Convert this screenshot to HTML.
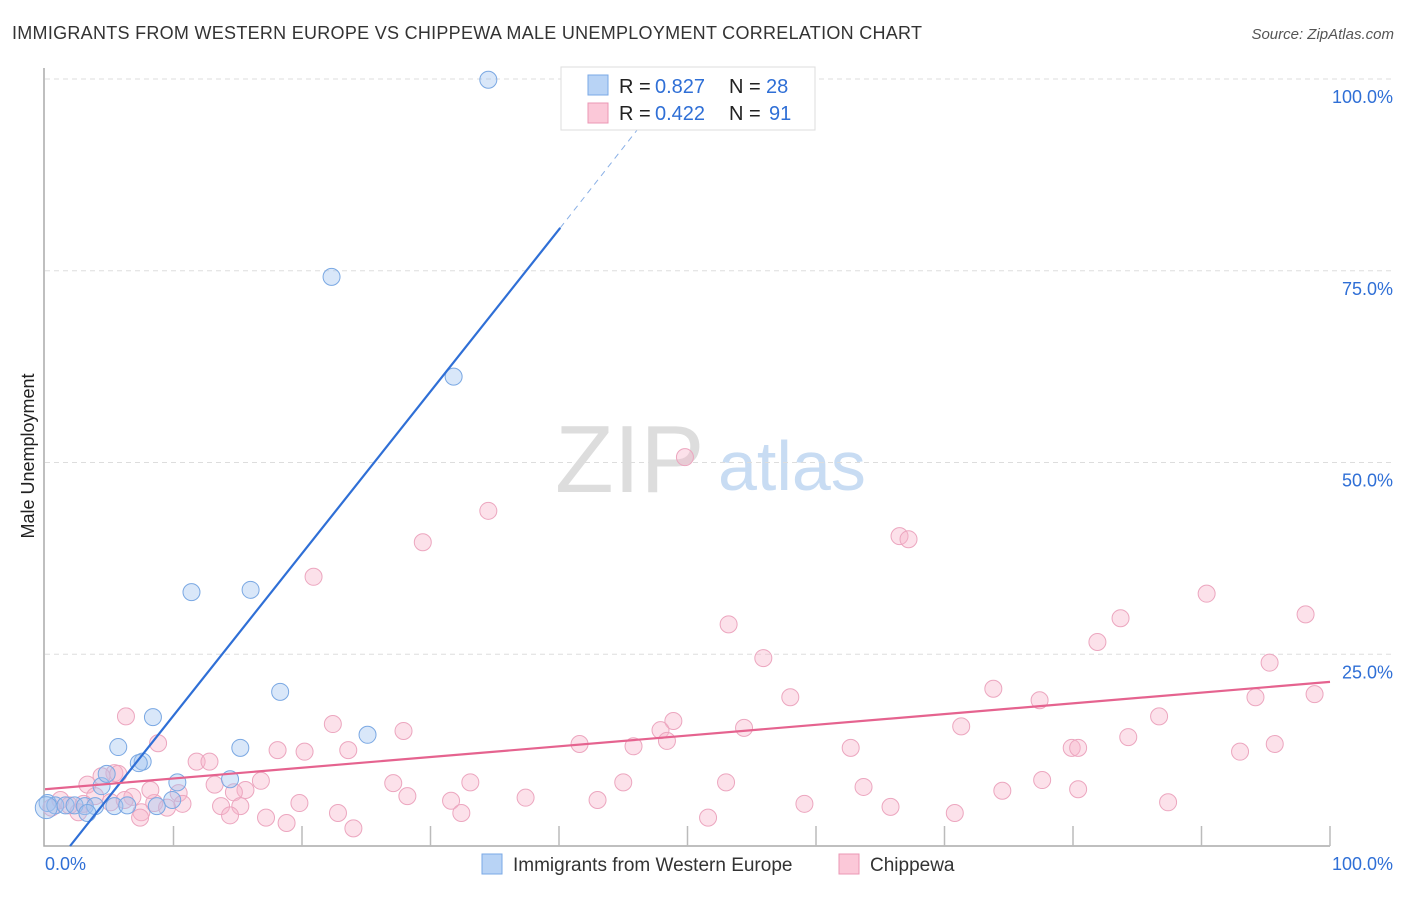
<!DOCTYPE html>
<html><head><meta charset="utf-8"><style>
body{margin:0;background:#fff;font-family:"Liberation Sans",sans-serif;}
svg text{font-family:"Liberation Sans",sans-serif;}
</style></head><body>
<svg id="chart" width="1406" height="892" xmlns="http://www.w3.org/2000/svg">
<text x="12" y="39" font-size="18" fill="#333" textLength="910">IMMIGRANTS FROM WESTERN EUROPE VS CHIPPEWA MALE UNEMPLOYMENT CORRELATION CHART</text>
<text x="1394" y="39" font-size="15" fill="#555" font-style="italic" text-anchor="end">Source: ZipAtlas.com</text>
<text x="34" y="456" font-size="18" fill="#222" text-anchor="middle" transform="rotate(-90 34 456)">Male Unemployment</text>
<text x="555" y="492" font-size="96" fill="#ddd" font-family="Liberation Serif">ZIP</text>
<text x="718" y="490" font-size="70" fill="#c8dcf3">atlas</text>
<g id="grid"></g><g id="axes"></g><g id="marks"></g><g id="lines"></g>
<g>
<rect x="561" y="67" width="254" height="63" fill="#fff" stroke="#ddd"/>
<rect x="588" y="75" width="20" height="20" fill="#b8d3f5" stroke="#7aa8e6"/>
<rect x="588" y="103" width="20" height="20" fill="#fbc8d8" stroke="#eb97b5"/>
<text x="619" y="93" font-size="20" fill="#222">R =</text>
<text x="655" y="93" font-size="20" fill="#2f6fd6">0.827</text>
<text x="729" y="93" font-size="20" fill="#222">N =</text>
<text x="766" y="93" font-size="20" fill="#2f6fd6">28</text>
<text x="619" y="120" font-size="20" fill="#222">R =</text>
<text x="655" y="120" font-size="20" fill="#2f6fd6">0.422</text>
<text x="729" y="120" font-size="20" fill="#222">N =</text>
<text x="769" y="120" font-size="20" fill="#2f6fd6">91</text>
</g>
<g>
<rect x="482" y="854" width="20" height="20" fill="#b8d3f5" stroke="#7aa8e6"/>
<text x="513" y="871" font-size="19" fill="#333">Immigrants from Western Europe</text>
<rect x="839" y="854" width="20" height="20" fill="#fbc8d8" stroke="#eb97b5"/>
<text x="870" y="871" font-size="19" fill="#333">Chippewa</text>
</g>
</svg>
<script>
const yTicks=[25,50,75,100];
const yTickLabels=["25.0%","50.0%","75.0%","100.0%"];
const xTicks=[10,20,30,40,50,60,70,80,90,100];
const blueX=[34.5,22.3,31.8,11.4,16.0,18.3,8.4,5.7,7.6,7.3,15.2,25.1,10.3,14.4,4.4,4.8,0.2,0.8,1.6,2.3,3.1,3.9,5.4,3.3,6.4,8.7,9.9,0.1];
const blueY=[99.9,74.2,61.2,33.1,33.4,20.1,16.8,12.9,11.0,10.8,12.8,14.5,8.3,8.7,7.8,9.4,5.6,5.3,5.3,5.3,5.2,5.2,5.2,4.3,5.3,5.2,6.0,5.0];
const pinkX=[49.8,34.5,66.5,67.2,29.4,20.9,90.4,98.1,83.7,53.2,81.9,55.9,95.3,73.8,58.0,77.4,94.2,98.8,6.3,86.7,22.4,71.3,48.9,54.4,47.9,27.9,84.3,8.8,41.6,48.4,45.8,95.7,62.7,79.9,80.4,18.1,20.2,23.6,93.0,11.8,12.8,5.4,4.4,5.7,3.3,16.8,13.2,27.1,33.1,45.0,53.0,77.6,63.7,80.4,74.5,10.4,15.6,14.7,28.2,6.8,3.9,37.4,43.0,31.6,19.8,87.4,59.1,8.5,10.7,13.7,15.2,65.8,9.5,2.6,7.5,22.8,32.4,14.4,70.8,17.2,51.6,18.8,24.0,7.4,1.2,1.9,0.5,5.1,6.2,8.2,3.0];
const pinkY=[50.7,43.7,40.4,40.0,39.6,35.1,32.9,30.2,29.7,28.9,26.6,24.5,23.9,20.5,19.4,19.0,19.4,19.8,16.9,16.9,15.9,15.6,16.3,15.4,15.1,15.0,14.2,13.4,13.3,13.7,13.0,13.3,12.8,12.8,12.8,12.5,12.3,12.5,12.3,11.0,11.0,9.5,9.1,9.4,8.0,8.5,8.0,8.2,8.3,8.3,8.3,8.6,7.7,7.4,7.2,6.9,7.3,7.0,6.5,6.4,6.5,6.3,6.0,5.9,5.6,5.7,5.5,5.6,5.5,5.2,5.2,5.1,5.0,4.4,4.4,4.3,4.3,4.0,4.3,3.7,3.7,3.0,2.3,3.7,6.0,5.3,5.0,5.7,6.0,7.3,5.5];
const blueFit=[1.95,0,40.1,80.6,46.1,93.4];
const pinkFit=[0,7.4,100,21.4];
const NS="http://www.w3.org/2000/svg";
const X=v=>45+v*12.85, Y=v=>846-v*7.67;
function mk(t,a,p){const e=document.createElementNS(NS,t);for(const k in a)e.setAttribute(k,a[k]);p.appendChild(e);return e;}
const grid=document.getElementById('grid'),axes=document.getElementById('axes'),marks=document.getElementById('marks'),lines=document.getElementById('lines');
yTicks.forEach((t,i)=>{
const g=mk('line',{x1:45,x2:1392,y1:Y(t),y2:Y(t),stroke:'#ddd','stroke-dasharray':'5,4'},grid);


const l=mk('text',{x:1393,y:Y(t)+24,'font-size':18,fill:'#2f6fd6','text-anchor':'end'},axes);l.textContent=yTickLabels[i];


});
const ax=mk('path',{d:'M44,68 V846 H1330',fill:'none',stroke:'#aaa','stroke-width':1.5},axes);


xTicks.forEach(t=>{const k=mk('line',{x1:X(t),x2:X(t),y1:826,y2:846,stroke:'#bbb','stroke-width':1.5},axes);

});
const x0=mk('text',{x:45,y:870,'font-size':18,fill:'#2f6fd6'},axes);x0.textContent='0.0%';


const x1=mk('text',{x:1393,y:870,'font-size':18,fill:'#2f6fd6','text-anchor':'end'},axes);x1.textContent='100.0%';


pinkX.forEach((v,i)=>{const c=mk('circle',{cx:X(v),cy:Y(pinkY[i]),r:8.5,fill:'rgba(248,180,202,0.4)',stroke:'#eca6bf','stroke-width':1},marks);

});
blueX.forEach((v,i)=>{const c=mk('circle',{cx:X(v),cy:Y(blueY[i]),r:i==27?11:8.5,fill:'rgba(160,196,240,0.4)',stroke:'#7aa8e3','stroke-width':1},marks);

});
const bl=mk('line',{x1:X(blueFit[0]),y1:Y(blueFit[1]),x2:X(blueFit[2]),y2:Y(blueFit[3]),stroke:'#2f6fd6','stroke-width':2.2},lines);


const bd=mk('line',{x1:X(blueFit[2]),y1:Y(blueFit[3]),x2:X(blueFit[4]),y2:Y(blueFit[5]),stroke:'#8ab0e6','stroke-width':1,'stroke-dasharray':'6,5'},lines);


const pl=mk('line',{x1:X(pinkFit[0]),y1:Y(pinkFit[1]),x2:X(pinkFit[2]),y2:Y(pinkFit[3]),stroke:'#e5638f','stroke-width':2.2},lines);


</script>
</body></html>
